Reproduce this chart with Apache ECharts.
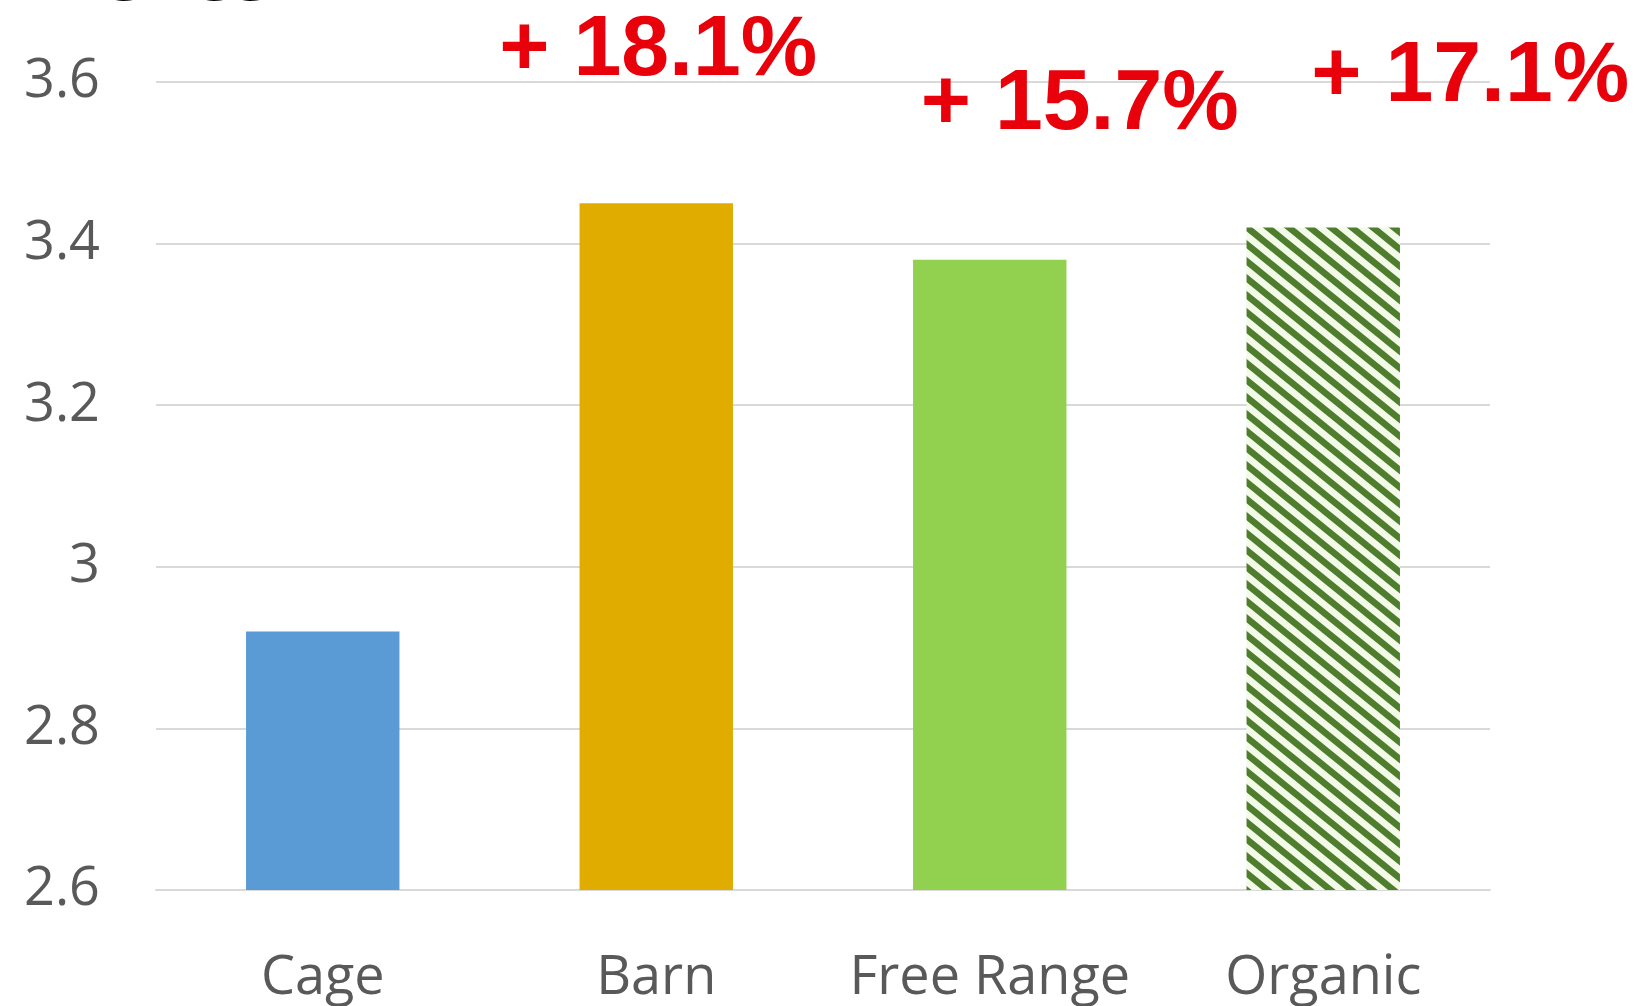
<!DOCTYPE html>
<html>
<head>
<meta charset="utf-8">
<script src="https://cdn.jsdelivr.net/npm/echarts@6/dist/echarts.min.js"></script>
<style>
  html, body { margin: 0; padding: 0; background: #fff; }
  #main { width: 1648px; height: 1006px; }
</style>
</head>
<body>
<div id="main"></div>
<script>
// data
var categories = ['Cage', 'Barn', 'Free Range', 'Organic']
var prices = [2.92, 3.45, 3.38, 3.42]
var changeLabels = ['', '+ 18.1%', '+ 15.7%', '+ 17.1%']
var yTicks = { min: 2.6, max: 3.6, step: 0.2 }

// bar colours
var barColors = ['#5B9BD5', '#E0AC00', '#92D050', null]

// diagonal hatch for the organic bar
function makeHatch() {
  var w = 21, h = 17
  var c = document.createElement('canvas')
  c.width = w
  c.height = h
  var ctx = c.getContext('2d')
  ctx.fillStyle = '#f3fbe8'
  ctx.fillRect(0, 0, w, h)
  ctx.strokeStyle = '#4f7d2e'
  ctx.lineWidth = 6.5
  ctx.lineCap = 'square'
  for (var k = -2; k <= 2; k++) {
    ctx.beginPath()
    ctx.moveTo(k * w - w, -h)
    ctx.lineTo(k * w + 2 * w, 2 * h)
    ctx.stroke()
  }
  return c
}

var labelOffsets = [[0, 0], [2, -104], [90, -106], [147, -102]]

var chart = echarts.init(document.getElementById('main'))

var option = {
  backgroundColor: '#ffffff',
  animation: false,
  grid: { left: 156, right: 158, top: 82, bottom: 116, containLabel: false },
  // title of the slide, almost all of it above the picture
  graphic: [{
    type: 'text',
    left: -28,
    top: -65,
    style: {
      text: '$ / kg eggs',
      font: 'bold 64px "Open Sans"',
      fill: '#000'
    }
  }],
  xAxis: {
    type: 'category',
    data: categories,
    axisLine: { show: true, lineStyle: { color: '#D9D9D9', width: 2 } },
    axisTick: { show: false },
    axisLabel: {
      interval: 0,
      color: '#595959',
      fontFamily: 'Open Sans',
      fontSize: 54,
      margin: 62
    }
  },
  yAxis: {
    type: 'value',
    min: yTicks.min,
    max: yTicks.max,
    interval: yTicks.step,
    axisLine: { show: false },
    axisTick: { show: false },
    splitLine: { lineStyle: { color: '#D9D9D9', width: 2 } },
    axisLabel: {
      color: '#595959',
      fontFamily: 'Open Sans',
      fontSize: 54,
      margin: 56
    }
  },
  series: [{
    type: 'bar',
    barWidth: '46%',
    data: prices.map(function (v, i) {
      return {
        value: v,
        itemStyle: {
          color: barColors[i] || { image: makeHatch(), repeat: 'repeat' }
        },
        label: {
          show: changeLabels[i] !== '',
          position: 'top',
          offset: labelOffsets[i],
          formatter: changeLabels[i],
          color: '#E8000B',
          fontFamily: 'Liberation Sans',
          fontWeight: 'bold',
          fontSize: 86
        }
      }
    })
  }]
}

chart.setOption(option)
</script>
</body>
</html>
